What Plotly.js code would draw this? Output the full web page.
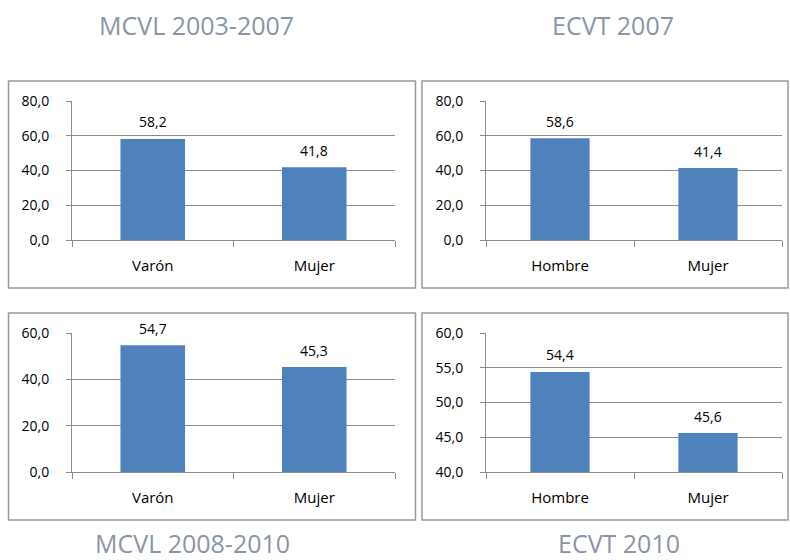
<!DOCTYPE html>
<html>
<head>
<meta charset="utf-8">
<script src="https://cdn.plot.ly/plotly-3.0.1.min.js"></script>
<style>html,body{margin:0;padding:0;background:#fff;}#chart{width:790px;height:560px;}</style>
</head>
<body>
<div id="chart"></div>
<script>
// Data
const titles = ["MCVL 2003-2007", "ECVT 2007", "MCVL 2008-2010", "ECVT 2010"];
const cats1 = ["Varón", "Mujer"];
const cats2 = ["Hombre", "Mujer"];
const cats3 = ["Varón", "Mujer"];
const cats4 = ["Hombre", "Mujer"];
const vals1 = [58.2, 41.8];
const vals2 = [58.6, 41.4];
const vals3 = [54.7, 45.3];
const vals4 = [54.4, 45.6];
const yRanges = [[0, 80], [0, 80], [0, 60], [40, 60]];
const yDticks = [20, 20, 20, 5];

const W = 790, H = 560;
const px = v => v / W;
const py = v => 1 - v / H;

const cats = [cats1, cats2, cats3, cats4];
const vals = [vals1, vals2, vals3, vals4];
// plot areas in pixels [x0, x1, ytop, ybottom]
const areas = [[72, 395, 101, 240], [486, 782, 101, 240], [72, 395, 333, 472], [486, 782, 333, 472]];
// panel boxes in pixels
const boxes = [[8.5, 415.5, 81, 288], [422, 788, 81, 288], [8.5, 415.5, 313, 520], [422, 788, 313, 520]];

const BAR = "#4F81BD";
const GRID = "#8C8C8C";
const FONT = "Open Sans, Liberation Sans, sans-serif";

const data = [];
const layout = {
  width: W, height: H,
  margin: {l: 0, r: 0, t: 0, b: 0},
  paper_bgcolor: "#ffffff",
  plot_bgcolor: "#ffffff",
  showlegend: false,
  separators: ",.",
  font: {family: FONT, size: 14, color: "#000000"},
  shapes: [],
  annotations: []
};

for (let i = 0; i < 4; i++) {
  const n = i === 0 ? "" : String(i + 1);
  data.push({
    type: "bar",
    x: cats[i],
    y: vals[i],
    xaxis: "x" + n,
    yaxis: "y" + n,
    marker: {color: BAR, line: {width: 0}},
    width: 0.4,
    hoverinfo: "skip"
  });
  const a = areas[i];
  layout["xaxis" + n] = {
    domain: [px(a[0]), px(a[1])],
    anchor: "y" + n,
    type: "category",
    range: [-0.5, 1.5],
    showgrid: false,
    showline: true,
    linecolor: GRID,
    linewidth: 1,
    ticks: "outside",
    tickson: "boundaries",
    ticklen: 6,
    tickcolor: GRID,
    ticklabelstandoff: 12,
    tickfont: {family: FONT, size: 15, color: "#000"},
    fixedrange: true,
    zeroline: false
  };
  layout["yaxis" + n] = {
    domain: [py(a[3]), py(a[2])],
    anchor: "x" + n,
    range: yRanges[i],
    dtick: yDticks[i],
    tick0: 0,
    tickformat: ".1f",
    showgrid: true,
    gridcolor: GRID,
    gridwidth: 1,
    showline: true,
    linecolor: GRID,
    linewidth: 1,
    ticks: "outside",
    ticklen: 5,
    tickcolor: GRID,
    ticklabelstandoff: 14,
    tickfont: {family: FONT, size: 14, color: "#000"},
    zeroline: false,
    fixedrange: true
  };
  // data labels
  for (let j = 0; j < vals[i].length; j++) {
    layout.annotations.push({
      xref: "x" + n, yref: "y" + n,
      x: cats[i][j], y: vals[i][j],
      text: vals[i][j].toFixed(1).replace(".", ","),
      showarrow: false,
      yanchor: "middle",
      yshift: 17,
      font: {family: FONT, size: 14, color: "#000"}
    });
  }
  const b = boxes[i];
  layout.shapes.push({
    type: "rect", xref: "paper", yref: "paper",
    x0: px(b[0]), x1: px(b[1]), y0: py(b[3]), y1: py(b[2]),
    line: {color: "#9A9A9A", width: 1.5},
    fillcolor: "rgba(0,0,0,0)",
    layer: "below"
  });
}

// panel titles
const titlePos = [[196, 25], [613, 25], [192, 543], [619, 543]];
for (let i = 0; i < 4; i++) {
  layout.annotations.push({
    xref: "paper", yref: "paper",
    x: px(titlePos[i][0]), y: py(titlePos[i][1]),
    xanchor: "center", yanchor: "middle",
    text: titles[i],
    showarrow: false,
    font: {family: FONT, size: 25, color: "#8A95A6"}
  });
}

Plotly.newPlot("chart", data, layout, {displayModeBar: false, staticPlot: true});
</script>
</body>
</html>
